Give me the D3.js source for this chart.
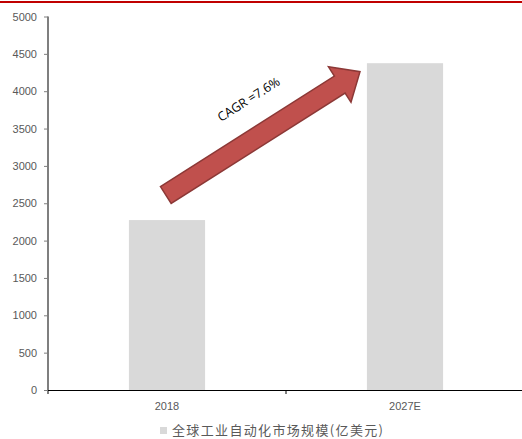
<!DOCTYPE html>
<html><head><meta charset="utf-8">
<script src="https://cdn.jsdelivr.net/npm/d3@7"></script>
<style>body{margin:0;background:#fff;}svg{display:block;}</style>
</head><body>
<script>
const categories = ["2018", "2027E"];
const values = [2275, 4375];
const yTicks = [0, 500, 1000, 1500, 2000, 2500, 3000, 3500, 4000, 4500, 5000];
const seriesName = "全球工业自动化市场规模(亿美元)";
const cagrLabel = "CAGR =7.6%";

const W = 522, H = 439;
const svg = d3.select("body").append("svg").attr("width", W).attr("height", H);

// top red rule
svg.append("rect").attr("x", 0).attr("y", 1).attr("width", W).attr("height", 2).attr("fill", "#c00000");

const x = d3.scaleBand().domain(categories).range([48, 524]).paddingInner(0.68).paddingOuter(0.34);
const y = d3.scaleLinear().domain([0, 5000]).range([390, 16.5]);

// bars
svg.selectAll("rect.bar").data(values).enter().append("rect")
  .attr("class", "bar")
  .attr("x", (d, i) => x(categories[i]))
  .attr("width", x.bandwidth())
  .attr("y", d => y(d))
  .attr("height", d => y(0) - y(d))
  .attr("fill", "#d9d9d9");

// y axis
const yAxis = svg.append("g").attr("transform", "translate(48,0)")
  .call(d3.axisLeft(y).tickValues(yTicks).tickFormat(d3.format("d")).tickSizeInner(4).tickSizeOuter(0).tickPadding(7));
yAxis.select(".domain").remove();
yAxis.append("line").attr("x1", 0).attr("x2", 0).attr("y1", y(5000)).attr("y2", 394)
  .attr("stroke", "#7f7f7f").attr("stroke-width", 2);
yAxis.selectAll(".tick line").attr("stroke", "#7f7f7f");
yAxis.selectAll("text").attr("fill", "#595959").style("font-family", "Arial, 'Liberation Sans', sans-serif").style("font-size", "11px");

// x axis
svg.append("line").attr("x1", 48).attr("x2", W).attr("y1", 390.5).attr("y2", 390.5)
  .attr("stroke", "#000").attr("stroke-width", 1.2);
svg.append("line").attr("x1", x(categories[1]) - x.step() * x.paddingInner() / 2).attr("x2", x(categories[1]) - x.step() * x.paddingInner() / 2)
  .attr("y1", 390).attr("y2", 394).attr("stroke", "#000");
svg.selectAll("text.cat").data(categories).enter().append("text")
  .attr("class", "cat")
  .attr("x", d => x(d) + x.bandwidth() / 2)
  .attr("y", 410)
  .attr("text-anchor", "middle")
  .attr("fill", "#595959")
  .style("font-family", "Arial, 'Liberation Sans', sans-serif").style("font-size", "11px")
  .text(d => d);

// CAGR arrow (tail near first bar top, head near second bar top)
const tail = [165.8, 195], tip = [360, 71.7];
const dx = tip[0] - tail[0], dy = tip[1] - tail[1];
const len = Math.hypot(dx, dy);
const ang = Math.atan2(dy, dx) * 180 / Math.PI;
const sw = 20, hw = 42, hl = 24;
const arrow = svg.append("g").attr("transform", `translate(${tail[0]},${tail[1]}) rotate(${ang})`);
arrow.append("path")
  .attr("d", d3.line()([[0, -sw/2], [len - hl, -sw/2], [len - hl, -hw/2], [len, 0], [len - hl, hw/2], [len - hl, sw/2], [0, sw/2]]) + "Z")
  .attr("fill", "#c0504d").attr("stroke", "#8c3836").attr("stroke-width", 1.5).attr("stroke-linejoin", "miter");

svg.append("text")
  .attr("transform", `translate(251,103) rotate(${ang})`)
  .attr("text-anchor", "middle")
  .attr("fill", "#000")
  .style("font-family", "'Open Sans', 'Liberation Sans', sans-serif").style("font-size", "12.5px")
  .text(cagrLabel);

// legend
svg.append("rect").attr("x", 160).attr("y", 427).attr("width", 7).attr("height", 7).attr("fill", "#d9d9d9");
svg.append("text")
  .attr("x", 172).attr("y", 435)
  .attr("fill", "#595959")
  .attr("textLength", 211).attr("lengthAdjust", "spacing")
  .style("font-family", "'Noto Sans CJK SC', sans-serif").style("font-size", "13px")
  .text(seriesName);
</script>
</body></html>
